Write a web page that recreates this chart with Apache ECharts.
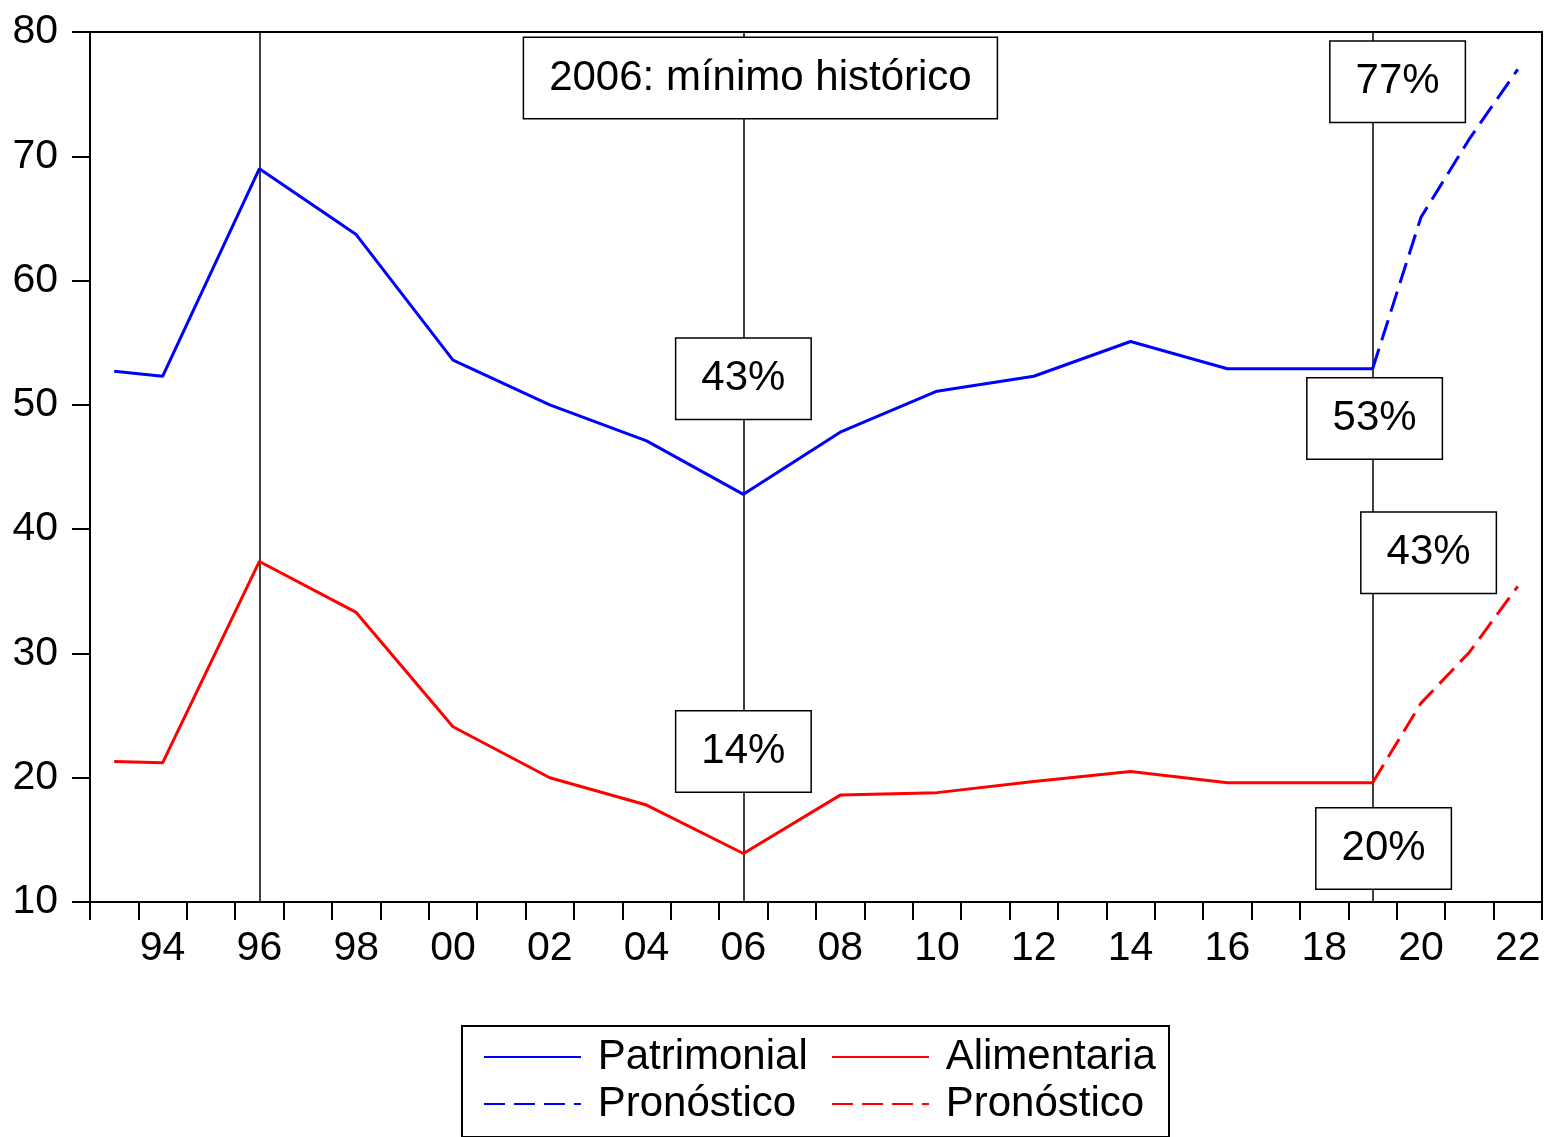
<!DOCTYPE html>
<html>
<head>
<meta charset="utf-8">
<script src="https://cdn.jsdelivr.net/npm/echarts@6/dist/echarts.min.js"></script>
<style>
  html, body { margin: 0; padding: 0; background: #fff; }
  #chart { width: 1545px; height: 1137px; }
</style>
</head>
<body>
<div id="chart"></div>
<script>
// años del eje (categorias)
var years = [];
for (var y = 1993; y <= 2022; y++) years.push(String(y));

// observaciones
var obsYears = [1993, 1994, 1996, 1998, 2000, 2002, 2004, 2006, 2008, 2010, 2012, 2014, 2016, 2019];
var patrimonial = [52.7, 52.3, 69.0, 63.7, 53.6, 50.0, 47.1, 42.8, 47.8, 51.1, 52.3, 55.1, 52.9, 52.9];
var alimentaria = [21.3, 21.2, 37.4, 33.3, 24.1, 20.0, 17.8, 13.9, 18.6, 18.8, 19.7, 20.5, 19.6, 19.6];

// pronostico
var fcYears = [2019, 2020, 2021, 2022];
var fcPatrimonial = [52.9, 65.1, 71.4, 77.0];
var fcAlimentaria = [19.6, 26.0, 30.1, 35.4];

// lineas verticales
var markYears = [1996, 2006, 2019];

// recuadros de texto
var notes = [
  { text: '2006: mínimo histórico', year: 2006, value: 76.3, dx: 17 },
  { text: '77%', year: 2019, value: 76.0, dx: 25 },
  { text: '43%', year: 2006, value: 52.1, dx: 0 },
  { text: '53%', year: 2019, value: 48.9, dx: 2 },
  { text: '43%', year: 2019, value: 38.1, dx: 56 },
  { text: '14%', year: 2006, value: 22.1, dx: 0 },
  { text: '20%', year: 2019, value: 14.3, dx: 11 }
];

var FONT = '"Liberation Sans", Arial, sans-serif';

function pairs(xs, vs) {
  return xs.map(function (x, i) { return [String(x), vs[i]]; });
}

// leyenda en dos filas con columnas alineadas
function legendRow(names, top, padding, framed) {
  return {
    left: 462, top: top, width: 690,
    orient: 'horizontal',
    padding: padding,
    itemGap: 20,
    itemWidth: 97, itemHeight: 24,
    borderColor: framed ? '#000' : 'transparent', borderWidth: framed ? 2 : 0,
    backgroundColor: framed ? '#fff' : 'transparent',
    z: framed ? 4 : 5,
    selectedMode: false,
    itemStyle: { opacity: 0 },
    formatter: function (name) { return '{a| ' + name + '}'; },
    textStyle: {
      color: '#000', fontSize: 42, fontFamily: FONT, lineHeight: 41,
      rich: { a: { width: 225, lineHeight: 41, fontSize: 42, fontFamily: FONT, color: '#000' } }
    },
    data: names
  };
}

var chart = echarts.init(document.getElementById('chart'));

var option = {
  animation: false,
  backgroundColor: '#fff',
  textStyle: { fontFamily: FONT },
  grid: {
    left: 90, right: 3, top: 32, bottom: 235,
    show: true, borderColor: '#000', borderWidth: 2, backgroundColor: 'transparent'
  },
  xAxis: {
    type: 'category',
    data: years,
    boundaryGap: true,
    axisLine: { lineStyle: { color: '#000', width: 2 } },
    axisTick: { show: true, interval: 0, length: 18, lineStyle: { color: '#000', width: 2 } },
    axisLabel: {
      interval: function (idx) { return idx % 2 === 1; },
      formatter: function (v) { return v.slice(2); },
      color: '#000', fontSize: 41, fontFamily: FONT, margin: 26
    },
    splitLine: { show: false }
  },
  yAxis: {
    type: 'value',
    min: 10, max: 80, interval: 10,
    axisLine: { show: true, lineStyle: { color: '#000', width: 2 } },
    axisTick: { show: true, length: 18, lineStyle: { color: '#000', width: 2 } },
    axisLabel: { color: '#000', fontSize: 41, fontFamily: FONT, margin: 32 },
    splitLine: { show: false }
  },
  legend: [
    legendRow(['Patrimonial', 'Alimentaria'], 1026, [10, 10, 59, 21], true),
    legendRow(['Pronóstico', 'Pronóstico '], 1083, [0, 10, 0, 21], false)
  ],
  series: [
    {
      name: 'Patrimonial', type: 'line', showSymbol: false, symbol: 'none',
      data: pairs(obsYears, patrimonial),
      lineStyle: { color: '#0000ff', width: 3 }, itemStyle: { color: '#0000ff' },
      markLine: {
        z: 3, silent: true, symbol: 'none',
        label: { show: false },
        lineStyle: { color: '#000', width: 1.5, type: 'solid' },
        data: markYears.map(function (yr) { return { xAxis: String(yr) }; })
      },
      markPoint: {
        z: 6, silent: true, symbol: 'rect', symbolSize: 0,
        data: notes.map(function (n) {
          return {
            name: n.text,
            coord: [String(n.year), n.value],
            label: { offset: [n.dx, 0] }
          };
        }),
        label: {
          show: true, position: 'inside', formatter: '{b}',
          color: '#000', fontSize: 42, fontFamily: FONT,
          backgroundColor: '#fff', borderColor: '#000', borderWidth: 1.5,
          padding: [19, 25, 19, 25]
        }
      }
    },
    {
      name: 'Alimentaria', type: 'line', showSymbol: false, symbol: 'none',
      data: pairs(obsYears, alimentaria),
      lineStyle: { color: '#ff0000', width: 3 }, itemStyle: { color: '#ff0000' }
    },
    {
      name: 'Pronóstico', type: 'line', showSymbol: false, symbol: 'none',
      data: pairs(fcYears, fcPatrimonial),
      lineStyle: { color: '#0000ff', width: 3, type: [21, 9] }, itemStyle: { color: '#0000ff' }
    },
    {
      name: 'Pronóstico ', type: 'line', showSymbol: false, symbol: 'none',
      data: pairs(fcYears, fcAlimentaria),
      lineStyle: { color: '#ff0000', width: 3, type: [21, 9] }, itemStyle: { color: '#ff0000' }
    }
  ]
};

chart.setOption(option);
</script>
</body>
</html>
